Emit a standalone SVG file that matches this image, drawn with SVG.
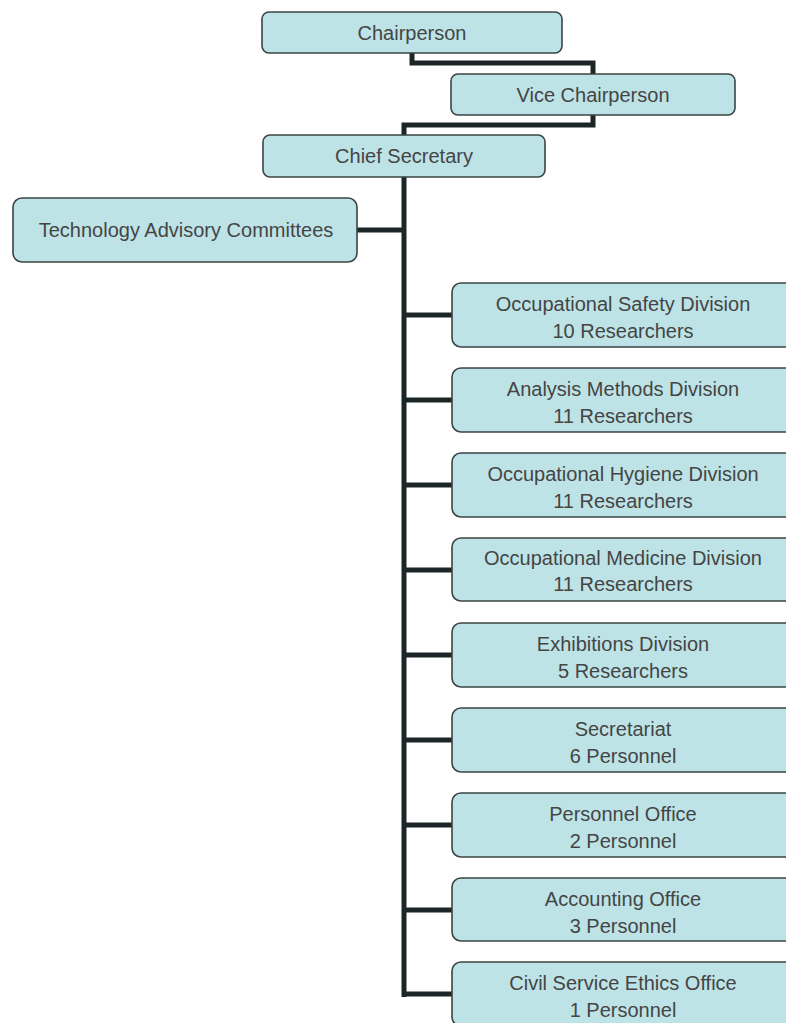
<svg xmlns="http://www.w3.org/2000/svg" width="786" height="1023" viewBox="0 0 786 1023">
<style>
.box{fill:#bde3e6;stroke:#3a4444;stroke-width:1.6}
.t{font-family:"Liberation Sans",Arial,sans-serif;font-size:20px;fill:#454545;text-anchor:middle}
.c{fill:none;stroke:#1c2626;stroke-width:5;stroke-linejoin:miter}
</style>
<rect width="786" height="1023" fill="#ffffff"/>
<g id="connectors">
<path class="c" d="M412,53 V63 H593 V74"/>
<path class="c" d="M593,115 V125 H404 V135"/>
<path class="c" d="M404,177 V997"/>
<path class="c" d="M357,230 H404"/>
<path class="c" d="M404,315 H452 M404,400 H452 M404,485 H452 M404,570 H452 M404,655 H452 M404,740 H452 M404,825 H452 M404,910 H452 M404,994 H452"/>
</g>
<g id="chairperson"><rect class="box" x="262" y="12" width="300" height="41" rx="7"/><text class="t" x="412" y="40">Chairperson</text></g>
<g id="vice"><rect class="box" x="451" y="74" width="284" height="41" rx="7"/><text class="t" x="593" y="102">Vice Chairperson</text></g>
<g id="chief"><rect class="box" x="263" y="135" width="282" height="42" rx="7"/><text class="t" x="404" y="163">Chief Secretary</text></g>
<g id="tac"><rect class="box" x="13" y="198" width="344" height="64" rx="9"/><text class="t" x="186" y="237">Technology Advisory Committees</text></g>
<g id="n1"><rect class="box" x="452" y="283" width="352" height="64" rx="9"/><text class="t" x="623" y="311">Occupational Safety Division</text><text class="t" x="623" y="338">10 Researchers</text></g>
<g id="n2"><rect class="box" x="452" y="368" width="352" height="64" rx="9"/><text class="t" x="623" y="396">Analysis Methods Division</text><text class="t" x="623" y="423">11 Researchers</text></g>
<g id="n3"><rect class="box" x="452" y="453" width="352" height="64" rx="9"/><text class="t" x="623" y="481">Occupational Hygiene Division</text><text class="t" x="623" y="508">11 Researchers</text></g>
<g id="n4"><rect class="box" x="452" y="538" width="352" height="63" rx="9"/><text class="t" x="623" y="565">Occupational Medicine Division</text><text class="t" x="623" y="591">11 Researchers</text></g>
<g id="n5"><rect class="box" x="452" y="623" width="352" height="64" rx="9"/><text class="t" x="623" y="651">Exhibitions Division</text><text class="t" x="623" y="678">5 Researchers</text></g>
<g id="n6"><rect class="box" x="452" y="708" width="352" height="64" rx="9"/><text class="t" x="623" y="736">Secretariat</text><text class="t" x="623" y="763">6 Personnel</text></g>
<g id="n7"><rect class="box" x="452" y="793" width="352" height="64" rx="9"/><text class="t" x="623" y="821">Personnel Office</text><text class="t" x="623" y="848">2 Personnel</text></g>
<g id="n8"><rect class="box" x="452" y="878" width="352" height="63" rx="9"/><text class="t" x="623" y="906">Accounting Office</text><text class="t" x="623" y="933">3 Personnel</text></g>
<g id="n9"><rect class="box" x="452" y="962" width="352" height="64" rx="9"/><text class="t" x="623" y="990">Civil Service Ethics Office</text><text class="t" x="623" y="1017">1 Personnel</text></g>
</svg>
